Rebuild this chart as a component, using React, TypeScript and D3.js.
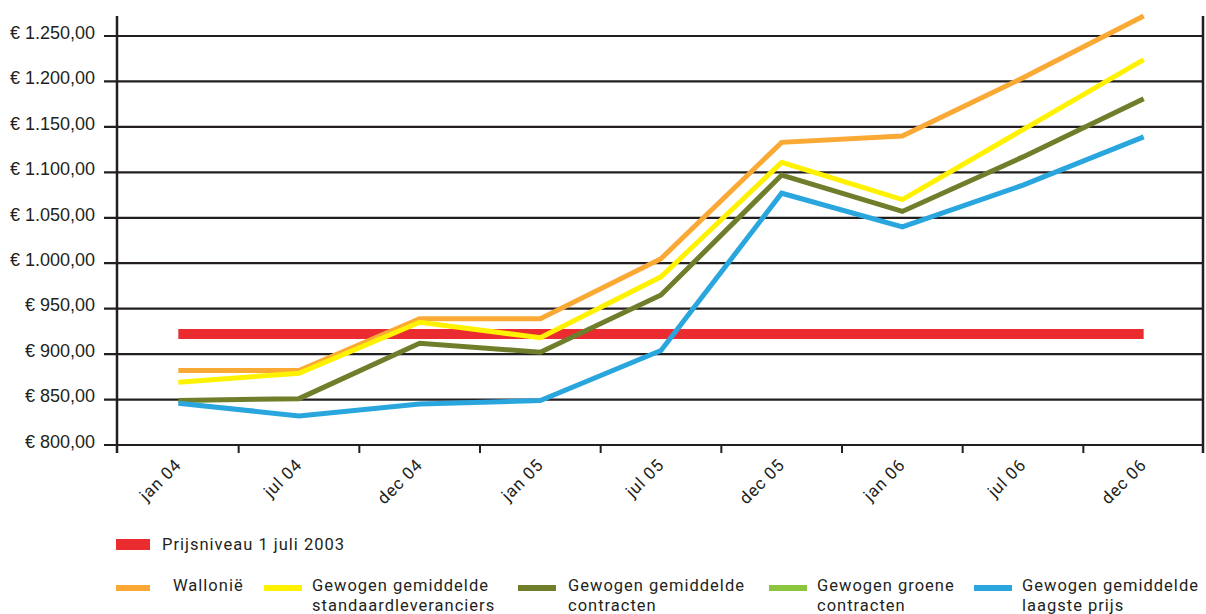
import React, { useRef, useEffect } from 'react';
import * as d3 from 'd3';

const categories = ['jan 04', 'jul 04', 'dec 04', 'jan 05', 'jul 05', 'dec 05', 'jan 06', 'jul 06', 'dec 06'];

const prijsniveau = [922, 922, 922, 922, 922, 922, 922, 922, 922];
const wallonie = [882, 882, 939, 939, 1005, 1133, 1140, 1204, 1272];
const standaard = [869, 879, 935, 918, 985, 1111, 1070, 1147, 1224];
const contracten = [849, 851, 912, 902, 965, 1097, 1057, 1117, 1181];
const groene: number[] = [];
const laagste = [846, 832, 845, 849, 904, 1077, 1040, 1086, 1139];

const yTicks = [800, 850, 900, 950, 1000, 1050, 1100, 1150, 1200, 1250];
const yTickLabels = ['€ 800,00', '€ 850,00', '€ 900,00', '€ 950,00', '€ 1.000,00', '€ 1.050,00', '€ 1.100,00', '€ 1.150,00', '€ 1.200,00', '€ 1.250,00'];

const seriesNames = [
  ['Wallonië'],
  ['Gewogen gemiddelde', 'standaardleveranciers'],
  ['Gewogen gemiddelde', 'contracten'],
  ['Gewogen groene', 'contracten'],
  ['Gewogen gemiddelde', 'laagste prijs'],
];
const seriesColors = ['#f9a934', '#fff200', '#6f7e2b', '#8cc63f', '#29a6de'];
const seriesValues = [wallonie, standaard, contracten, groene, laagste];

const refName = 'Prijsniveau 1 juli 2003';
const refColor = '#ea2c30';

const W = 1206;
const H = 614;
const ink = '#231f20';

const App: React.FC = () => {
  const ref = useRef<SVGSVGElement | null>(null);

  useEffect(() => {
    const svg = d3.select(ref.current);
    svg.selectAll('*').remove();

    const left = 118;
    const right = 1204;
    const x = d3.scaleBand<string>().domain(categories).range([left, right]);
    const y = d3.scaleLinear().domain([800, 1272]).range([445, 16]);
    const cx = (i: number) => x(categories[i])! + x.bandwidth() / 2;

    // horizontal gridlines + tick labels
    const grid = svg.append('g');
    yTicks.forEach((t, i) => {
      grid.append('line')
        .attr('x1', left - 14).attr('x2', right)
        .attr('y1', y(t)).attr('y2', y(t))
        .attr('stroke', ink).attr('stroke-width', 2.2);
      grid.append('text')
        .attr('x', 95).attr('y', y(t) - 2)
        .attr('text-anchor', 'end')
        .attr('dominant-baseline', 'middle')
        .attr('font-family', '"Liberation Sans", Arial, sans-serif')
        .attr('font-size', 18)
        .attr('fill', ink)
        .text(yTickLabels[i]);
    });

    // vertical frame lines
    [left - 1, right - 1].forEach((xx) => {
      grid.append('line')
        .attr('x1', xx).attr('x2', xx)
        .attr('y1', y(1272)).attr('y2', y(800) + 8)
        .attr('stroke', ink).attr('stroke-width', 2.5);
    });

    // x ticks at band edges
    categories.forEach((c, i) => {
      if (i === 0) return;
      grid.append('line')
        .attr('x1', x(c)!).attr('x2', x(c)!)
        .attr('y1', y(800)).attr('y2', y(800) + 8)
        .attr('stroke', ink).attr('stroke-width', 2);
    });

    // x labels
    categories.forEach((c, i) => {
      const px = cx(i) + 4;
      const py = 466;
      svg.append('text')
        .attr('transform', `translate(${px},${py}) rotate(-45)`)
        .attr('text-anchor', 'end')
        .attr('font-family', 'Roboto, sans-serif')
        .attr('font-size', 17)
        .attr('letter-spacing', 0.8)
        .attr('fill', ink)
        .text(c);
    });

    const line = d3.line<number>()
      .x((_, i) => cx(i))
      .y((d) => y(d));

    // reference level
    svg.append('path')
      .datum(prijsniveau)
      .attr('fill', 'none')
      .attr('stroke', refColor)
      .attr('stroke-width', 10)
      .attr('d', line as any);

    seriesValues.forEach((vals, k) => {
      if (!vals.length) return;
      svg.append('path')
        .datum(vals)
        .attr('fill', 'none')
        .attr('stroke', seriesColors[k])
        .attr('stroke-width', 5)
        .attr('stroke-linejoin', 'miter')
        .attr('d', line as any);
    });

    // legend
    const lg = svg.append('g')
      .attr('font-family', 'Roboto, sans-serif')
      .attr('font-size', 16.5)
      .attr('letter-spacing', 1)
      .attr('fill', ink);

    lg.append('rect').attr('x', 116).attr('y', 539).attr('width', 34).attr('height', 11).attr('fill', refColor);
    lg.append('text').attr('x', 162).attr('y', 550).text(refName);

    const swatchX = [116, 264, 518, 769, 974];
    const textX = [173, 312, 568, 817, 1022];
    seriesNames.forEach((lines, k) => {
      lg.append('rect')
        .attr('x', swatchX[k]).attr('y', 585)
        .attr('width', k === 0 ? 34 : 38).attr('height', 6)
        .attr('fill', seriesColors[k]);
      lines.forEach((t, j) => {
        lg.append('text')
          .attr('x', textX[k]).attr('y', 591 + j * 20)
          .text(t);
      });
    });
  }, []);

  return (
    <div style={{ position: 'absolute', left: 0, top: 0 }}>
      <svg ref={ref} width={W} height={H} style={{ display: 'block', background: '#fff' }} />
    </div>
  );
};

export default App;
